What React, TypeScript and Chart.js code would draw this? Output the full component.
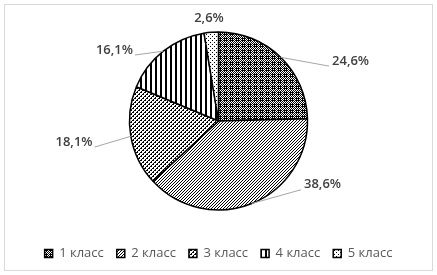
import React, { useEffect, useRef } from "react";
import { Chart, registerables } from "chart.js";

Chart.register(...registerables);

const categories = ["1 класс", "2 класс", "3 класс", "4 класс", "5 класс"];
const shares = [24.6, 38.6, 18.1, 16.1, 2.6];
const valueLabels = ["24,6%", "38,6%", "18,1%", "16,1%", "2,6%"];
const patternKinds = ["grid", "diagonal", "confetti", "vertical", "sparse"];

// label placement: clockwise angle from top (deg) and distance from pie centre (px)
const labelPlacement = [
  { angle: 65.6, dist: 145 },
  { angle: 121.5, dist: 122 },
  { angle: 261.7, dist: 146 },
  { angle: 304.3, dist: 126 },
  { angle: 354.7, dist: 103 },
];

function makePattern(kind: string): CanvasPattern | string {
  const size = kind === "grid" ? 6 : kind === "vertical" ? 5 : kind === "diagonal" ? 3 : 4;
  const c = document.createElement("canvas");
  c.width = size;
  c.height = size;
  const ctx = c.getContext("2d");
  if (!ctx) return "#888";
  ctx.fillStyle = "#ffffff";
  ctx.fillRect(0, 0, size, size);
  ctx.fillStyle = "#000000";
  const px = (x: number, y: number) => ctx.fillRect(x, y, 1, 1);
  for (let y = 0; y < size; y++) {
    for (let x = 0; x < size; x++) {
      if (kind === "grid") {
        if (x === 0 || y === 0) {
          if ((x + y) % 2 === 1) px(x, y);
        } else if (!(x % 2 === 1 && y % 2 === 1)) px(x, y);
      } else if (kind === "diagonal") {
        if (x + y === size - 1) px(x, y);
      } else if (kind === "confetti") {
        if ((y === 0 && (x === 0 || x === 1)) || (y === 2 && (x === 2 || x === 3)) || (y === 1 && x === 3) || (y === 3 && x === 1)) px(x, y);
      } else if (kind === "vertical") {
        if (x < 2) px(x, y);
      } else if (kind === "sparse") {
        if ((x === 0 && y === 0) || (x === 2 && y === 2)) px(x, y);
      }
    }
  }
  return ctx.createPattern(c, "repeat") || "#888";
}

const frameAndLabels = {
  id: "frameAndLabels",
  beforeDraw(chart: any) {
    const ctx = chart.ctx;
    ctx.save();
    ctx.fillStyle = "#ffffff";
    ctx.fillRect(0, 0, chart.width, chart.height);
    ctx.strokeStyle = "#d9d9d9";
    ctx.lineWidth = 1;
    ctx.strokeRect(4.5, 4.5, chart.width - 9, chart.height - 9);
    ctx.restore();
  },
  afterDatasetsDraw(chart: any) {
    const ctx = chart.ctx;
    const meta = chart.getDatasetMeta(0);
    ctx.save();
    ctx.font = "600 13px 'Open Sans'";
    ctx.textBaseline = "middle";
    ctx.textAlign = "center";
    meta.data.forEach((arc: any, i: number) => {
      const { x, y, startAngle, endAngle, outerRadius } = arc.getProps(
        ["x", "y", "startAngle", "endAngle", "outerRadius"],
        true
      );
      const place = labelPlacement[i];
      const a = ((place.angle - 90) * Math.PI) / 180;
      const lx = x + Math.cos(a) * place.dist;
      const ly = y + Math.sin(a) * place.dist;
      const text = valueLabels[i];
      const w = ctx.measureText(text).width;
      if (place.dist > outerRadius + 20) {
        const mid = (startAngle + endAngle) / 2;
        const ex = x + Math.cos(mid) * outerRadius;
        const ey = y + Math.sin(mid) * outerRadius;
        const onRight = lx > x;
        const tx = onRight ? lx - w / 2 - 3 : lx + w / 2 + 2;
        const ty = ly + 5;
        ctx.strokeStyle = "#a6a6a6";
        ctx.lineWidth = 1;
        ctx.beginPath();
        ctx.moveTo(ex, ey);
        ctx.lineTo(tx, ty);
        ctx.stroke();
      }
      ctx.fillStyle = "#404040";
      ctx.fillText(text, lx, ly);
    });
    ctx.restore();
  },
};

export default function App() {
  const ref = useRef<HTMLCanvasElement | null>(null);
  useEffect(() => {
    if (!ref.current) return;
    const fills = patternKinds.map(makePattern);
    const chart = new Chart(ref.current, {
      type: "pie",
      data: {
        labels: categories,
        datasets: [
          {
            data: shares,
            backgroundColor: fills,
            borderColor: "#000000",
            borderWidth: 1.5,
            radius: 89,
          },
        ],
      },
      options: {
        responsive: false,
        maintainAspectRatio: false,
        animation: false,
        devicePixelRatio: 1,
        layout: { padding: { top: 8, bottom: 5, left: 0, right: 0 } },
        plugins: {
          tooltip: { enabled: false },
          legend: {
            position: "bottom",
            labels: {
              boxWidth: 8,
              boxHeight: 8,
              padding: 13,
              color: "#595959",
              font: { family: "'Open Sans'", size: 13 },
            },
          },
        },
      },
      plugins: [frameAndLabels],
    });
    return () => chart.destroy();
  }, []);
  return (
    <div style={{ position: "fixed", left: 0, top: 0, width: 437, height: 275, background: "#fff" }}>
      <canvas ref={ref} width={437} height={275} />
    </div>
  );
}
